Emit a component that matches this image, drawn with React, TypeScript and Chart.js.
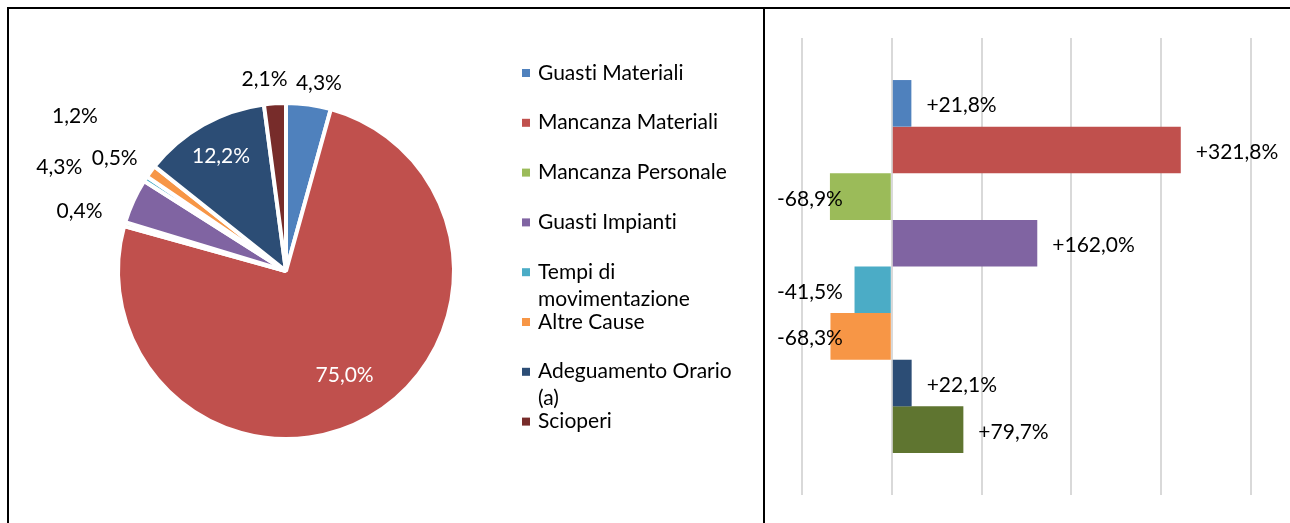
import React, { useEffect, useRef } from "react";
import { Chart, registerables } from "chart.js";

Chart.register(...registerables);

// ---------- DATA ----------
const categories = [
  "Guasti Materiali",
  "Mancanza Materiali",
  "Mancanza Personale",
  "Guasti Impianti",
  "Tempi di movimentazione",
  "Altre Cause",
  "Adeguamento Orario (a)",
  "Scioperi",
];
const sharePercent = [4.3, 75.0, 0.4, 4.3, 0.5, 1.2, 12.2, 2.1];
const changePercent = [21.8, 321.8, -68.9, 162.0, -41.5, -68.3, 22.1, 79.7];
const changeAxisMin = -100;
const changeAxisMax = 400;
const changeAxisStep = 100;

// ---------- STYLE ----------
const FONT_FAMILY = "Lato, 'Liberation Sans', sans-serif";
const FONT_SIZE = 21;
const PIE_COLORS = ["#4F81BD", "#C0504D", "#9BBB59", "#8064A2", "#4BACC6", "#F79646", "#2C4D75", "#772C2A"];
const BAR_COLORS = ["#4F81BD", "#C0504D", "#9BBB59", "#8064A2", "#4BACC6", "#F79646", "#2C4D75", "#5F7530"];
// label distance from pie centre, as a factor of the pie radius, and angular nudge (degrees)
const PIE_LABEL_RADIUS = [1.135, 0.708, 1.28, 1.485, 1.22, 1.56, 0.785, 1.147];
const PIE_LABEL_NUDGE = [2.2, 0, 0, 0, 0, 0, 0, -2.6];
const PIE_LABEL_COLOR = ["#000", "#fff", "#000", "#000", "#000", "#000", "#fff", "#000"];
const LEGEND = { x: 522, top: 73, step: 49.8, box: 8, textX: 538, lineH: 27, maxW: 212 };

const fmt = (v: number) => v.toFixed(1).replace(".", ",") + "%";
const fmtSigned = (v: number) => (v > 0 ? "+" : "") + fmt(v);

function setFont(ctx: CanvasRenderingContext2D) {
  ctx.font = `${FONT_SIZE}px ${FONT_FAMILY}`;
  try {
    (ctx as any).textRendering = "optimizeSpeed";
  } catch (e) {
    /* ignore */
  }
}

function wrap(ctx: CanvasRenderingContext2D, text: string, maxW: number): string[] {
  const words = text.split(" ");
  const lines: string[] = [];
  let cur = "";
  for (const w of words) {
    const test = cur ? cur + " " + w : w;
    if (cur && ctx.measureText(test).width > maxW) {
      lines.push(cur);
      cur = w;
    } else cur = test;
  }
  if (cur) lines.push(cur);
  return lines;
}

const pieLabelsPlugin = {
  id: "pieLabels",
  afterDatasetsDraw(chart: any) {
    const ctx = chart.ctx as CanvasRenderingContext2D;
    const meta = chart.getDatasetMeta(0);
    ctx.save();
    setFont(ctx);
    ctx.textAlign = "center";
    ctx.textBaseline = "alphabetic";
    meta.data.forEach((arc: any, i: number) => {
      const { x, y, startAngle, endAngle, outerRadius } = arc.getProps(
        ["x", "y", "startAngle", "endAngle", "outerRadius"],
        true
      );
      const mid = (startAngle + endAngle) / 2 + (PIE_LABEL_NUDGE[i] * Math.PI) / 180;
      const r = outerRadius * PIE_LABEL_RADIUS[i];
      ctx.fillStyle = PIE_LABEL_COLOR[i];
      ctx.fillText(fmt(sharePercent[i]), x + Math.cos(mid) * r, y + Math.sin(mid) * r + 7);
    });
    ctx.restore();
  },
};

const legendPlugin = {
  id: "sideLegend",
  afterDraw(chart: any) {
    const ctx = chart.ctx as CanvasRenderingContext2D;
    ctx.save();
    setFont(ctx);
    ctx.textAlign = "left";
    ctx.textBaseline = "alphabetic";
    categories.forEach((c, i) => {
      const cy = LEGEND.top + i * LEGEND.step;
      ctx.fillStyle = PIE_COLORS[i];
      ctx.fillRect(LEGEND.x, cy - LEGEND.box / 2, LEGEND.box, LEGEND.box);
      ctx.fillStyle = "#000";
      wrap(ctx, c, LEGEND.maxW).forEach((line, k) => {
        ctx.fillText(line, LEGEND.textX, cy + 6.5 + k * LEGEND.lineH);
      });
    });
    ctx.restore();
  },
};

const barLabelsPlugin = {
  id: "barLabels",
  afterDatasetsDraw(chart: any) {
    const ctx = chart.ctx as CanvasRenderingContext2D;
    const xScale = chart.scales.x;
    const minNeg = Math.min(...changePercent);
    const negRight = xScale.getPixelForValue(minNeg) + 13;
    ctx.save();
    setFont(ctx);
    ctx.fillStyle = "#000";
    ctx.textBaseline = "alphabetic";
    chart.data.datasets.forEach((ds: any, i: number) => {
      const el = chart.getDatasetMeta(i).data[0];
      const { x, y } = el.getProps(["x", "y"], true);
      const v = changePercent[i];
      if (v >= 0) {
        ctx.textAlign = "left";
        ctx.fillText(fmtSigned(v), x + 15, y + 9);
      } else {
        ctx.textAlign = "right";
        ctx.fillText(fmtSigned(v), negRight, y + 9);
      }
    });
    ctx.restore();
  },
};

export default function App() {
  const pieRef = useRef<HTMLCanvasElement>(null);
  const barRef = useRef<HTMLCanvasElement>(null);

  useEffect(() => {
    const pie = new Chart(pieRef.current as HTMLCanvasElement, {
      type: "pie",
      data: {
        labels: categories,
        datasets: [
          {
            data: sharePercent,
            backgroundColor: PIE_COLORS,
            borderColor: "#ffffff",
            borderWidth: 4,
            radius: 168,
          } as any,
        ],
      },
      options: {
        responsive: false,
        maintainAspectRatio: false,
        animation: false,
        layout: { padding: { left: 118, right: 309, top: 103, bottom: 84 } },
        plugins: { legend: { display: false }, tooltip: { enabled: false } },
      },
      plugins: [pieLabelsPlugin, legendPlugin],
    });

    const bar = new Chart(barRef.current as HTMLCanvasElement, {
      type: "bar",
      data: {
        labels: [""],
        datasets: categories.map((c, i) => ({
          label: c,
          data: [changePercent[i]],
          backgroundColor: BAR_COLORS[i],
          borderWidth: 0,
          categoryPercentage: 0.816,
          barPercentage: 1,
        })),
      },
      options: {
        indexAxis: "y",
        responsive: false,
        maintainAspectRatio: false,
        animation: false,
        layout: { padding: { left: 37, right: 39, top: 38, bottom: 28 } },
        plugins: { legend: { display: false }, tooltip: { enabled: false } },
        scales: {
          x: {
            min: changeAxisMin,
            max: changeAxisMax,
            ticks: { display: false, stepSize: changeAxisStep },
            grid: { color: "#d9d9d9", lineWidth: 2, drawTicks: false },
            border: { display: false },
            afterFit: (s: any) => {
              s.height = 0;
            },
          },
          y: { display: false },
        },
      },
      plugins: [barLabelsPlugin],
    });

    return () => {
      pie.destroy();
      bar.destroy();
    };
  }, []);

  return (
    <div
      style={{
        position: "absolute",
        left: 0,
        top: 0,
        width: 1290,
        height: 523,
        overflow: "hidden",
        background: "#fff",
      }}
    >
      <canvas
        ref={pieRef}
        width={763}
        height={523}
        style={{ position: "absolute", left: 0, top: 0, width: 763, height: 523 }}
      />
      <canvas
        ref={barRef}
        width={525}
        height={523}
        style={{ position: "absolute", left: 765, top: 0, width: 525, height: 523 }}
      />
      <div style={{ position: "absolute", left: 7, top: 7, width: 1283, height: 2, background: "#000" }} />
      <div style={{ position: "absolute", left: 7, top: 7, width: 2, height: 516, background: "#000" }} />
      <div style={{ position: "absolute", left: 763, top: 7, width: 2, height: 516, background: "#000" }} />
    </div>
  );
}
